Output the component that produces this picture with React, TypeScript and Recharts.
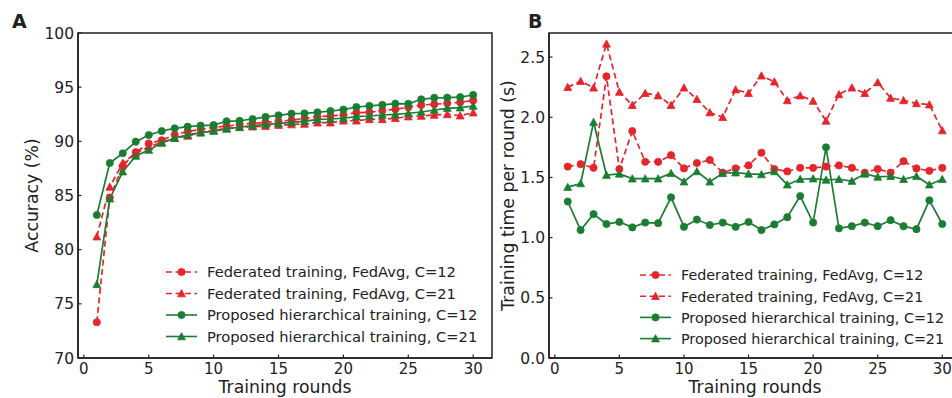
import React from 'react';
import { LineChart, Line, XAxis, YAxis, ReferenceArea, Legend, Label } from 'recharts';

const FONT = '"DejaVu Sans", Verdana, sans-serif';
const RED = '#e5242b';
const GREEN = '#1a7d32';
const INK = '#222222';

const rounds = [1, 2, 3, 4, 5, 6, 7, 8, 9, 10, 11, 12, 13, 14, 15, 16, 17, 18, 19, 20, 21, 22, 23, 24, 25, 26, 27, 28, 29, 30];

// Panel A: accuracy (%)
const fedC12Acc = [73.3, 84.8, 87.7, 89.0, 89.8, 90.1, 90.6, 90.9, 91.1, 91.3, 91.4, 91.55, 91.65, 91.75, 91.85, 91.95, 92.1, 92.28, 92.34, 92.43, 92.65, 92.68, 92.83, 92.96, 93.14, 93.35, 93.42, 93.51, 93.6, 93.78];
const fedC21Acc = [81.2, 85.8, 88.0, 88.9, 89.5, 89.9, 90.3, 90.5, 90.8, 91.0, 91.2, 91.3, 91.35, 91.4, 91.5, 91.55, 91.6, 91.72, 91.72, 91.9, 91.9, 92.03, 92.03, 92.13, 92.28, 92.34, 92.43, 92.49, 92.37, 92.65];
const hierC12Acc = [83.2, 88.0, 88.9, 89.97, 90.58, 90.95, 91.2, 91.35, 91.45, 91.5, 91.85, 91.9, 92.06, 92.25, 92.4, 92.55, 92.58, 92.68, 92.8, 92.93, 93.17, 93.27, 93.36, 93.48, 93.46, 93.88, 94.02, 94.03, 94.08, 94.28];
const hierC21Acc = [76.8, 84.7, 87.2, 88.65, 89.2, 89.85, 90.3, 90.6, 90.8, 90.95, 91.15, 91.3, 91.45, 91.55, 91.65, 91.75, 91.85, 92.03, 92.06, 92.13, 92.28, 92.34, 92.43, 92.49, 92.59, 92.71, 92.89, 93.05, 93.11, 93.26];

// Panel B: training time per round (s)
const fedC12Time = [1.59, 1.61, 1.58, 2.34, 1.57, 1.885, 1.63, 1.63, 1.685, 1.575, 1.62, 1.645, 1.54, 1.575, 1.6, 1.705, 1.57, 1.55, 1.58, 1.58, 1.59, 1.6, 1.58, 1.54, 1.57, 1.54, 1.635, 1.575, 1.555, 1.58];
const fedC21Time = [2.25, 2.3, 2.245, 2.61, 2.21, 2.1, 2.2, 2.18, 2.1, 2.245, 2.15, 2.04, 2.0, 2.23, 2.2, 2.345, 2.295, 2.14, 2.18, 2.135, 1.97, 2.19, 2.245, 2.2, 2.29, 2.16, 2.14, 2.115, 2.105, 1.89];
const hierC12Time = [1.3, 1.063, 1.195, 1.113, 1.13, 1.085, 1.125, 1.12, 1.335, 1.09, 1.15, 1.105, 1.125, 1.09, 1.13, 1.063, 1.11, 1.17, 1.345, 1.125, 1.75, 1.077, 1.095, 1.125, 1.095, 1.145, 1.095, 1.07, 1.31, 1.113];
const hierC21Time = [1.42, 1.45, 1.96, 1.52, 1.53, 1.49, 1.49, 1.49, 1.535, 1.465, 1.55, 1.465, 1.535, 1.54, 1.53, 1.525, 1.55, 1.44, 1.485, 1.49, 1.48, 1.485, 1.47, 1.53, 1.505, 1.51, 1.485, 1.51, 1.44, 1.485];

const xTicks = [0, 5, 10, 15, 20, 25, 30];
const accTicks = [70, 75, 80, 85, 90, 95, 100];
const timeTicks = [0, 0.5, 1.0, 1.5, 2.0, 2.5];

const seriesNames = [
  'Federated training, FedAvg, C=12',
  'Federated training, FedAvg, C=21',
  'Proposed hierarchical training, C=12',
  'Proposed hierarchical training, C=21',
];

const accData = rounds.map((r, i) => ({
  round: r,
  fedC12: fedC12Acc[i],
  fedC21: fedC21Acc[i],
  hierC12: hierC12Acc[i],
  hierC21: hierC21Acc[i],
}));

const timeData = rounds.map((r, i) => ({
  round: r,
  fedC12: fedC12Time[i],
  fedC21: fedC21Time[i],
  hierC12: hierC12Time[i],
  hierC21: hierC21Time[i],
}));

const series = [
  { key: 'fedC12', name: seriesNames[0], color: RED, dashed: true, shape: 'circle' },
  { key: 'fedC21', name: seriesNames[1], color: RED, dashed: true, shape: 'triangle' },
  { key: 'hierC12', name: seriesNames[2], color: GREEN, dashed: false, shape: 'circle' },
  { key: 'hierC21', name: seriesNames[3], color: GREEN, dashed: false, shape: 'triangle' },
];

const DASH = '6 3.5';

function marker(shape: string, cx: number, cy: number, color: string, key?: string) {
  if (shape === 'circle') {
    return <circle key={key} cx={cx} cy={cy} r={3.6} fill={color} stroke={color} strokeWidth={0.8} />;
  }
  const s = 3.9;
  const pts = `${cx},${cy - s} ${cx - s},${cy + s * 0.85} ${cx + s},${cy + s * 0.85}`;
  return <polygon key={key} points={pts} fill={color} stroke={color} strokeWidth={0.8} />;
}

const makeDot = (shape: string, color: string) => (props: any) => {
  const { cx, cy, index } = props;
  if (cx == null || cy == null) return <g key={`e${index}`} />;
  return marker(shape, cx, cy, color, `d${index}`);
};

const XTick = (props: any) => {
  const { x, y, payload } = props;
  return (
    <g>
      <line x1={x} x2={x} y1={y} y2={y - 3.5} stroke={INK} strokeWidth={1.2} />
      <text x={x} y={y + 16} textAnchor="middle" fontSize={15} fill={INK} fontFamily={FONT}>
        {payload.value}
      </text>
    </g>
  );
};

const makeYTick = (digits: number) => (props: any) => {
  const { x, y, payload } = props;
  return (
    <g>
      <line x1={x} x2={x + 3.5} y1={y} y2={y} stroke={INK} strokeWidth={1.2} />
      <text x={x - 4} y={y} dy="0.36em" textAnchor="end" fontSize={15.5} fill={INK} fontFamily={FONT}>
        {Number(payload.value).toFixed(digits)}
      </text>
    </g>
  );
};

const LegendBox = ({ rowGap, fontSize }: { rowGap: number; fontSize: number }) => (
  <svg width={300} height={95} style={{ display: 'block', overflow: 'visible' }}>
    {series.map((s, i) => {
      const cy = 11 + i * rowGap;
      return (
        <g key={s.key}>
          <line x1={6} x2={37} y1={cy} y2={cy} stroke={s.color} strokeWidth={1.6} strokeDasharray={s.dashed ? DASH : undefined} />
          {marker(s.shape, 21.5, cy, s.color)}
          <text x={47} y={cy + 5.4} fontSize={fontSize} fill={INK} fontFamily={FONT}>
            {s.name}
          </text>
        </g>
      );
    })}
  </svg>
);

const renderLines = () =>
  series.map((s) => (
    <Line
      key={s.key}
      dataKey={s.key}
      name={s.name}
      type="linear"
      stroke={s.color}
      strokeWidth={1.7}
      strokeDasharray={s.dashed ? DASH : undefined}
      dot={makeDot(s.shape, s.color)}
      activeDot={false}
      isAnimationActive={false}
    />
  ));

export default function App() {
  return (
    <div style={{ position: 'absolute', left: 0, top: 0, width: 952, height: 398, overflow: 'hidden', background: '#fff', fontFamily: FONT }}>
      <div style={{ position: 'absolute', left: 0, top: 0 }}>
        <LineChart width={500} height={398} data={accData} margin={{ top: 33, right: 8, bottom: 0, left: 0 }}>
          <XAxis
            dataKey="round"
            type="number"
            domain={[-0.45, 31.45]}
            ticks={xTicks}
            allowDataOverflow
            interval={0}
            height={40}
            tickSize={0}
            tickMargin={0}
            tickLine={false}
            tick={<XTick />}
            axisLine={{ stroke: INK, strokeWidth: 1.5 }}
          >
            <Label value="Training rounds" position="insideBottom" offset={5} fontSize={17.3} fill={INK} fontFamily={FONT} />
          </XAxis>
          <YAxis
            type="number"
            domain={[70, 100]}
            ticks={accTicks}
            allowDataOverflow
            interval={0}
            width={78}
            tickSize={0}
            tickMargin={0}
            tickLine={false}
            tick={makeYTick(0)}
            axisLine={{ stroke: INK, strokeWidth: 1.5 }}
          >
            <Label value="Accuracy (%)" angle={-90} position="insideLeft" offset={32} fontSize={17.3} fill={INK} fontFamily={FONT} style={{ textAnchor: 'middle' }} />
          </YAxis>
          <ReferenceArea x1={-0.45} x2={31.45} y1={70} y2={100} fill="none" fillOpacity={0} stroke={INK} strokeWidth={1.5} ifOverflow="visible" />
          {renderLines()}
          <Legend
            layout="vertical"
            align="center"
            verticalAlign="middle"
            wrapperStyle={{ left: 160, top: 261, width: 300, height: 95 }}
            content={() => <LegendBox rowGap={21.5} fontSize={14.7} />}
          />
        </LineChart>
      </div>
      <div style={{ position: 'absolute', left: 476, top: 0 }}>
        <LineChart width={490} height={398} data={timeData} margin={{ top: 33, right: 5, bottom: 0, left: 0 }}>
          <XAxis
            dataKey="round"
            type="number"
            domain={[-0.45, 31.45]}
            ticks={xTicks}
            allowDataOverflow
            interval={0}
            height={40}
            tickSize={0}
            tickMargin={0}
            tickLine={false}
            tick={<XTick />}
            axisLine={{ stroke: INK, strokeWidth: 1.5 }}
          >
            <Label value="Training rounds" position="insideBottom" offset={5} fontSize={17.3} fill={INK} fontFamily={FONT} />
          </XAxis>
          <YAxis
            type="number"
            domain={[0, 2.7]}
            ticks={timeTicks}
            allowDataOverflow
            interval={0}
            width={73}
            tickSize={0}
            tickMargin={0}
            tickLine={false}
            tick={makeYTick(1)}
            axisLine={{ stroke: INK, strokeWidth: 1.5 }}
          >
            <Label value="Training time per round (s)" angle={-90} position="insideLeft" offset={32} fontSize={17.3} fill={INK} fontFamily={FONT} style={{ textAnchor: 'middle' }} />
          </YAxis>
          <ReferenceArea x1={-0.45} x2={31.45} y1={0} y2={2.7} fill="none" fillOpacity={0} stroke={INK} strokeWidth={1.5} ifOverflow="visible" />
          {renderLines()}
          <Legend
            layout="vertical"
            align="center"
            verticalAlign="middle"
            wrapperStyle={{ left: 158, top: 264, width: 300, height: 95 }}
            content={() => <LegendBox rowGap={21.2} fontSize={14.3} />}
          />
        </LineChart>
      </div>
      <svg width={952} height={40} style={{ position: 'absolute', left: 0, top: 0, pointerEvents: 'none' }}>
        <text x={12} y={28} fontSize={19} fontWeight="bold" fill={INK} fontFamily={FONT}>A</text>
        <text x={528} y={28} fontSize={19} fontWeight="bold" fill={INK} fontFamily={FONT}>B</text>
      </svg>
    </div>
  );
}
